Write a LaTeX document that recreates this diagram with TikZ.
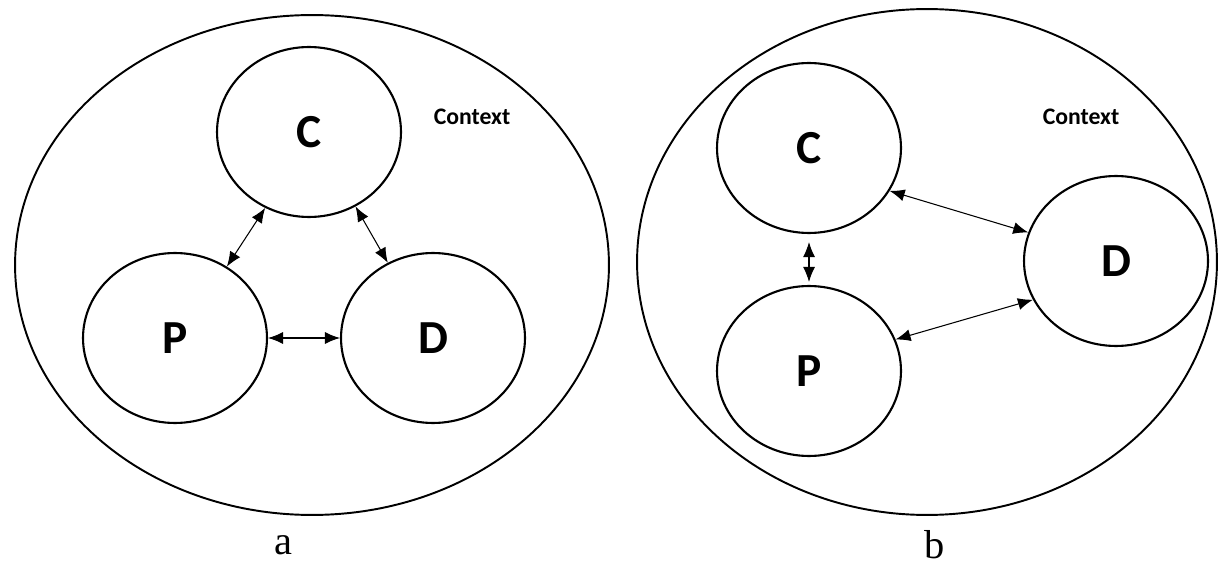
\documentclass[tikz,border=0pt]{standalone}
\usepackage{fontspec}
\setmainfont{Liberation Serif}
\newfontfamily\calib{Carlito}
\usetikzlibrary{shapes.geometric,arrows.meta}

\begin{document}
\begin{tikzpicture}[x=0.02cm,y=-0.02cm]
    \tikzstyle{context} = [ellipse,draw=black,line width=1.1pt,inner sep=0pt]
    \tikzstyle{block} = [ellipse,minimum width=3.68cm,minimum height=3.4cm,inner sep=0pt,draw=black,line width=1.2pt,font=\calib\bfseries\fontsize{27}{30}\selectfont]
    \tikzstyle{ctxlabel} = [font=\calib\bfseries\fontsize{13.5}{16}\selectfont]
    \tikzstyle{link} = [{Latex[length=3mm,width=2.4mm]}-{Latex[length=3mm,width=2.4mm]},line width=0.6pt]
    \useasboundingbox (0,0) rectangle (1226,577);
    % a: triangle
    \node (ctxa)[context,minimum width=11.88cm,minimum height=10cm] at (312,265) {};
    \node (ca)[block] at (309,132) {C};
    \node (pa)[block] at (175,338) {P};
    \node (da)[block] at (433,338) {D};
    \node (lbla)[ctxlabel] at (472,117) {Context};
    \draw [link] (ca.240) -- (pa.54);
    \draw [link] (ca.302) -- (da.121);
    \draw [link] (pa.east) -- (da.west);
    \node (capa)[font=\fontsize{23}{27}\selectfont] at (283,545) {a};
    % b: column
    \node (ctxb)[context,minimum width=11.6cm,minimum height=10.12cm] at (927,262) {};
    \node (cb)[block] at (809,148) {C};
    \node (pb)[block] at (809,371) {P};
    \node (db)[block] at (1116,261) {D};
    \node (lblb)[ctxlabel] at (1081,117) {Context};
    \draw [link,shorten <=0.16cm,shorten >=0.06cm] (cb.south) -- (pb.north);
    \draw [link] (cb.332) -- (db.162);
    \draw [link] (pb.20) -- (db.205);
    \node (capb)[font=\fontsize{23}{27}\selectfont] at (935,545) {b};
\end{tikzpicture}
\end{document}
